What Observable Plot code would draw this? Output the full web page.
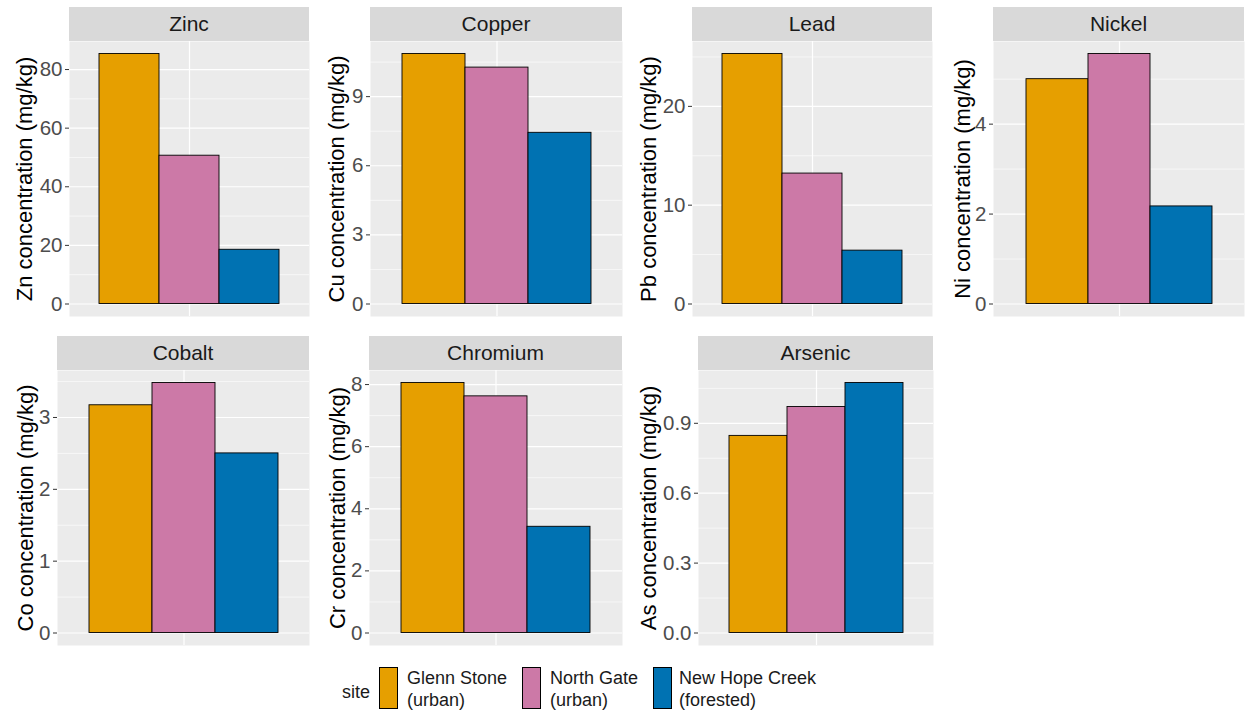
<!DOCTYPE html>
<html><head><meta charset="utf-8">
<script src="https://cdn.jsdelivr.net/npm/d3@7"></script>
<script src="https://cdn.jsdelivr.net/npm/@observablehq/plot@0.6"></script>
<style>
body{margin:0;background:#fff;font-family:"Liberation Sans",Arial,sans-serif;}
#root{position:relative;width:1248px;height:715px;overflow:hidden;background:#fff;}
.strip{position:absolute;background:#D9D9D9;color:#1A1A1A;font-size:21px;display:flex;align-items:center;justify-content:center;}
.panel{position:absolute;}
.lg{position:absolute;font-size:18px;color:#1A1A1A;line-height:22px;}
.key{position:absolute;box-sizing:border-box;border:1px solid #000;}
</style></head><body><div id="root"></div>
<script>
// ---- data ----
const sites = ["Glenn Stone (urban)", "North Gate (urban)", "New Hope Creek (forested)"];
const siteColors = ["#E69F00", "#CC79A7", "#0072B2"];
const metals = ["Zinc", "Copper", "Lead", "Nickel", "Cobalt", "Chromium", "Arsenic"];
const symbols = ["Zn", "Cu", "Pb", "Ni", "Co", "Cr", "As"];
const glennStone   = [85.3, 10.85, 25.3, 5.00, 3.17, 8.05, 0.846];
const northGate    = [50.6, 10.26, 13.2, 5.56, 3.48, 7.62, 0.970];
const newHopeCreek = [18.5,  7.43,  5.4, 2.17, 2.50, 3.42, 1.073];
const majorTicks = [[0,20,40,60,80],[0,3,6,9],[0,10,20],[0,2,4],[0,1,2,3],[0,2,4,6,8],[0,0.3,0.6,0.9]];
const minorTicks = [[10,30,50,70],[1.5,4.5,7.5,10.5],[5,15,25],[1,3,5],[0.5,1.5,2.5,3.5],[1,3,5,7],[0.15,0.45,0.75,1.05]];
const tickLabels = [["0","20","40","60","80"],["0","3","6","9"],["0","10","20"],["0","2","4"],["0","1","2","3"],["0","2","4","6","8"],["0.0","0.3","0.6","0.9"]];
const legendTitle = "site";

// ---- layout ----
const layout = [
  {svgLeft:0,   left:69,  right:309,  row:0, titleX:24},
  {svgLeft:310, left:370, right:622,  row:0, titleX:336},
  {svgLeft:622, left:692, right:932,  row:0, titleX:648},
  {svgLeft:933, left:993, right:1244, row:0, titleX:962},
  {svgLeft:0,   left:57,  right:309,  row:1, titleX:25},
  {svgLeft:310, left:369, right:622,  row:1, titleX:337},
  {svgLeft:622, left:698, right:933,  row:1, titleX:648}
];
const rows = [{stripTop:7, panelTop:41}, {stripTop:336, panelTop:370}];
const panelH = 275, stripH = 34, m = 12;
const font = "Liberation Sans, Arial, sans-serif";

const root = document.getElementById("root");
const series = [glennStone, northGate, newHopeCreek];

metals.forEach((metal, i) => {
  const L = layout[i], R = rows[L.row];
  const data = sites.map((s, j) => ({site: s, value: series[j][i]}));
  const vmax = d3.max(data, d => d.value);
  const ml = L.left - L.svgLeft;
  const chart = Plot.plot({
    width: L.right - L.svgLeft,
    height: panelH + 2 * m,
    marginLeft: ml, marginRight: 0, marginTop: m, marginBottom: m,
    style: {fontFamily: font, overflow: "visible", background: "transparent"},
    x: {type: "band", domain: sites, paddingInner: 0, paddingOuter: 0.5, axis: null},
    y: {domain: [-0.05 * vmax, 1.05 * vmax], axis: null},
    color: {domain: sites, range: siteColors},
    marks: [
      Plot.frame({fill: "#EBEBEB", stroke: null}),
      Plot.gridY(minorTicks[i], {stroke: "white", strokeOpacity: 1, strokeWidth: 0.6}),
      Plot.gridY(majorTicks[i], {stroke: "white", strokeOpacity: 1, strokeWidth: 1.2}),
      Plot.gridX([sites[1]], {stroke: "white", strokeOpacity: 1, strokeWidth: 1.2}),
      Plot.barY(data, {x: "site", y: "value", fill: "site", stroke: "black", strokeWidth: 0.9}),
      Plot.axisY(majorTicks[i], {
        label: null, tickSize: 4, tickPadding: 3, stroke: "#333333", fill: "#4D4D4D",
        fontSize: 20.5, tickFormat: d => tickLabels[i][majorTicks[i].indexOf(d)]
      }),
      Plot.text([`${symbols[i]} concentration (mg/kg)`], {
        text: d => d, frameAnchor: "left", rotate: -90, lineAnchor: "middle", textAnchor: "middle",
        dx: -(ml - (L.titleX - L.svgLeft)), fontSize: 22, fill: "black"
      })
    ]
  });
  chart.classList.add("panel");
  chart.style.left = L.svgLeft + "px";
  chart.style.top = (R.panelTop - m) + "px";
  root.appendChild(chart);

  const strip = document.createElement("div");
  strip.className = "strip";
  strip.textContent = metal;
  Object.assign(strip.style, {left: L.left + "px", top: R.stripTop + "px", width: (L.right - L.left) + "px", height: stripH + "px"});
  root.appendChild(strip);
});

// ---- legend ----
const lt = document.createElement("div");
lt.className = "lg"; lt.textContent = legendTitle;
Object.assign(lt.style, {left: "342px", top: "681px"});
root.appendChild(lt);
const keyX = [379, 522, 653], textX = [407, 550, 679];
sites.forEach((s, j) => {
  const k = document.createElement("div");
  k.className = "key";
  Object.assign(k.style, {left: keyX[j] + "px", top: "667px", width: "19px", height: "42px", background: siteColors[j]});
  root.appendChild(k);
  const t = document.createElement("div");
  t.className = "lg";
  const idx = s.indexOf(" (");
  t.innerHTML = s.slice(0, idx) + "<br>" + s.slice(idx + 1);
  Object.assign(t.style, {left: textX[j] + "px", top: "667px"});
  root.appendChild(t);
});
</script></body></html>
